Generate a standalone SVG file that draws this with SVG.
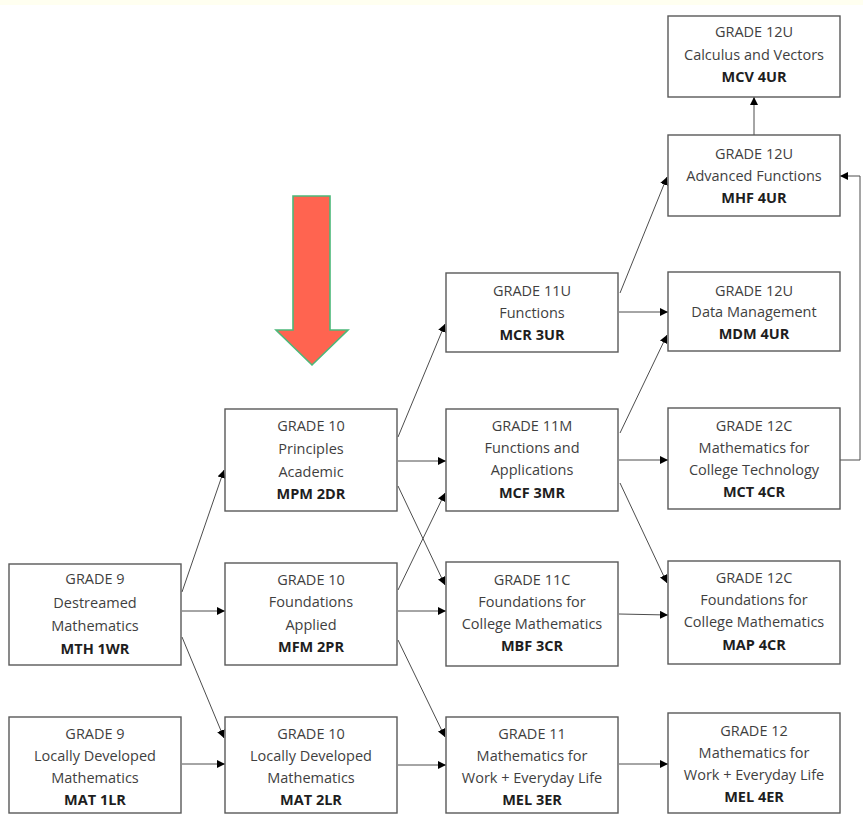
<svg xmlns="http://www.w3.org/2000/svg" width="863" height="815" viewBox="0 0 863 815">
<defs>
<style>
.box{fill:#fff;stroke:#595959;stroke-width:1.4}
.t{font-family:"Open Sans","Noto Sans",sans-serif;font-size:14.5px;fill:#3f3f3f;text-anchor:middle}
.b{font-weight:bold;fill:#1e1e1e}
.c{fill:none;stroke:#4d4d4d;stroke-width:1}
</style>
<marker id="ah" viewBox="0 0 10 10" refX="10" refY="5" markerWidth="8" markerHeight="8" markerUnits="userSpaceOnUse" orient="auto">
<path d="M0,0 L10,5 L0,10 Z" fill="#000"/>
</marker>
</defs>
<rect x="0" y="0" width="863" height="815" fill="#fff"/>
<rect x="0" y="0" width="863" height="5" fill="#fffff0"/>

<g id="red-arrow">
<path d="M293,196 L330,196 L330,330 L348,330 L312,365 L276,330 L293,330 Z" fill="#ff6450" stroke="#4cb87a" stroke-width="1.6"/>
</g>

<g id="connectors">
<path class="c" d="M182,592 L224,470" marker-end="url(#ah)"/>
<path class="c" d="M182,611 L225,611" marker-end="url(#ah)"/>
<path class="c" d="M182,637 L224,738" marker-end="url(#ah)"/>
<path class="c" d="M182,764 L225,764" marker-end="url(#ah)"/>
<path class="c" d="M398,437 L445,324" marker-end="url(#ah)"/>
<path class="c" d="M398,461 L446,461" marker-end="url(#ah)"/>
<path class="c" d="M398,486 L445,585" marker-end="url(#ah)"/>
<path class="c" d="M398,590 L445,493" marker-end="url(#ah)"/>
<path class="c" d="M398,611 L446,611" marker-end="url(#ah)"/>
<path class="c" d="M398,640 L445,737" marker-end="url(#ah)"/>
<path class="c" d="M398,765 L446,765" marker-end="url(#ah)"/>
<path class="c" d="M620,293 L667,177" marker-end="url(#ah)"/>
<path class="c" d="M619,312 L668,312" marker-end="url(#ah)"/>
<path class="c" d="M620,433 L667,335" marker-end="url(#ah)"/>
<path class="c" d="M619,460 L668,460" marker-end="url(#ah)"/>
<path class="c" d="M620,483 L667,583" marker-end="url(#ah)"/>
<path class="c" d="M619,614 L668,615" marker-end="url(#ah)"/>
<path class="c" d="M619,764 L668,764" marker-end="url(#ah)"/>
<path class="c" d="M754,135 L754,97" marker-end="url(#ah)"/>
<path class="c" d="M840,460 L860,460 L860,176 L840,176" marker-end="url(#ah)"/>
</g>

<g id="mcv"><rect class="box" x="668" y="16" width="172" height="81"/>
<text class="t" x="754" y="37">GRADE 12U</text><text class="t" x="754" y="60">Calculus and Vectors</text><text class="t b" x="754" y="82">MCV 4UR</text></g>

<g id="mhf"><rect class="box" x="668" y="135" width="172" height="81"/>
<text class="t" x="754" y="159">GRADE 12U</text><text class="t" x="754" y="181">Advanced Functions</text><text class="t b" x="754" y="203">MHF 4UR</text></g>

<g id="mdm"><rect class="box" x="668" y="272" width="172" height="79"/>
<text class="t" x="754" y="296">GRADE 12U</text><text class="t" x="754" y="317">Data Management</text><text class="t b" x="754" y="339">MDM 4UR</text></g>

<g id="mct"><rect class="box" x="668" y="408" width="172" height="101"/>
<text class="t" x="754" y="431">GRADE 12C</text><text class="t" x="754" y="453">Mathematics for</text><text class="t" x="754" y="475">College Technology</text><text class="t b" x="754" y="497">MCT 4CR</text></g>

<g id="map"><rect class="box" x="668" y="561" width="172" height="103"/>
<text class="t" x="754" y="583">GRADE 12C</text><text class="t" x="754" y="605">Foundations for</text><text class="t" x="754" y="627">College Mathematics</text><text class="t b" x="754" y="650">MAP 4CR</text></g>

<g id="mel4"><rect class="box" x="668" y="713" width="172" height="100"/>
<text class="t" x="754" y="736">GRADE 12</text><text class="t" x="754" y="758">Mathematics for</text><text class="t" x="754" y="780">Work + Everyday Life</text><text class="t b" x="754" y="802">MEL 4ER</text></g>

<g id="mcr"><rect class="box" x="446" y="273" width="172" height="79"/>
<text class="t" x="532" y="296">GRADE 11U</text><text class="t" x="532" y="318">Functions</text><text class="t b" x="532" y="340">MCR 3UR</text></g>

<g id="mcf"><rect class="box" x="446" y="409" width="172" height="102"/>
<text class="t" x="532" y="431">GRADE 11M</text><text class="t" x="532" y="453">Functions and</text><text class="t" x="532" y="475">Applications</text><text class="t b" x="532" y="498">MCF 3MR</text></g>

<g id="mbf"><rect class="box" x="446" y="562" width="172" height="104"/>
<text class="t" x="532" y="585">GRADE 11C</text><text class="t" x="532" y="607">Foundations for</text><text class="t" x="532" y="629">College Mathematics</text><text class="t b" x="532" y="651">MBF 3CR</text></g>

<g id="mel3"><rect class="box" x="446" y="717" width="172" height="96"/>
<text class="t" x="532" y="739">GRADE 11</text><text class="t" x="532" y="761">Mathematics for</text><text class="t" x="532" y="783">Work + Everyday Life</text><text class="t b" x="532" y="805">MEL 3ER</text></g>

<g id="mpm"><rect class="box" x="225" y="409" width="172" height="102"/>
<text class="t" x="311" y="431">GRADE 10</text><text class="t" x="311" y="454">Principles</text><text class="t" x="311" y="477">Academic</text><text class="t b" x="311" y="499">MPM 2DR</text></g>

<g id="mfm"><rect class="box" x="225" y="563" width="172" height="102"/>
<text class="t" x="311" y="585">GRADE 10</text><text class="t" x="311" y="607">Foundations</text><text class="t" x="311" y="630">Applied</text><text class="t b" x="311" y="652">MFM 2PR</text></g>

<g id="mat2"><rect class="box" x="225" y="717" width="172" height="96"/>
<text class="t" x="311" y="739">GRADE 10</text><text class="t" x="311" y="761">Locally Developed</text><text class="t" x="311" y="783">Mathematics</text><text class="t b" x="311" y="805">MAT 2LR</text></g>

<g id="mth"><rect class="box" x="9" y="564" width="172" height="101"/>
<text class="t" x="95" y="584">GRADE 9</text><text class="t" x="95" y="608">Destreamed</text><text class="t" x="95" y="631">Mathematics</text><text class="t b" x="95" y="654">MTH 1WR</text></g>

<g id="mat1"><rect class="box" x="9" y="717" width="172" height="96"/>
<text class="t" x="95" y="739">GRADE 9</text><text class="t" x="95" y="761">Locally Developed</text><text class="t" x="95" y="783">Mathematics</text><text class="t b" x="95" y="805">MAT 1LR</text></g>
</svg>
